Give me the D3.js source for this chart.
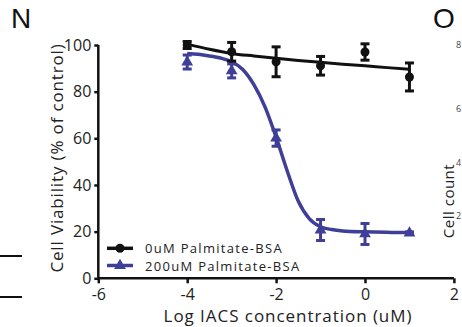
<!DOCTYPE html>
<html><head><meta charset="utf-8">
<script src="https://cdn.jsdelivr.net/npm/d3@7"></script>
<style>
html,body{margin:0;padding:0;background:#fff;overflow:hidden;}
svg{display:block;font-family:"Open Sans",sans-serif;}
</style></head>
<body>
<svg id="c" width="462" height="327"></svg>
<script>
// ---- data ----
const doses = [-4, -3, -2, -1, 0, 1];
const ctrlMean = [100, 97.1, 92.8, 91.1, 97, 86.3];
const ctrlErr  = [1.5, 4, 6.4, 4, 3.5, 6];
const palmMean = [92.7, 88.9, 60.1, 20.7, 19, 19.4];
const palmErr  = [3, 3, 3.5, 4.5, 4.5, 0.5];
const ctrlFitX = [-4, -3.5, -3, -2.5, -2, -1.5, -1, -0.5, 0, 0.5, 1];
const ctrlFitY = [100.4, 98.2, 96.4, 95.3, 94.3, 93.4, 92.6, 91.8, 91.1, 90.3, 89.6];
const palmFitX = [-4, -3.75, -3.5, -3.25, -3, -2.75, -2.5, -2.25, -2, -1.75, -1.5, -1.25, -1, -0.75, -0.5, 0, 0.5, 1];
const palmFitY = [96.4, 96.0, 95.3, 94.4, 92.8, 89.5, 83, 73.5, 60.5, 46, 33, 25.5, 22.1, 20.9, 20.3, 19.9, 19.7, 19.6];
const xTicks = [-6, -4, -2, 0, 2];
const yTicks = [0, 20, 40, 60, 80, 100];
const legendLabels = ["0uM Palmitate-BSA", "200uM Palmitate-BSA"];
const rightTicks = ["8", "6", "4", "2"];

const BLUE = "#3f3f98", BLACK = "#111";
const svg = d3.select("#c");
const x = d3.scaleLinear().domain([-6, 2]).range([98.3, 453.9]);
const y = d3.scaleLinear().domain([0, 100]).range([278.3, 45]);

// panel letters
svg.append("text").attr("x", 11).attr("y", 28).attr("font-size", 28).attr("font-family", "Liberation Sans")
  .attr("fill", BLACK).text("N");
svg.append("text").attr("x", 433).attr("y", 28).attr("font-size", 28).attr("font-family", "Liberation Sans")
  .attr("fill", BLACK).text("O");

// fragments of neighbouring panels
[256, 297].forEach(v => svg.append("line").attr("x1", 0).attr("x2", 22).attr("y1", v).attr("y2", v)
  .attr("stroke", BLACK).attr("stroke-width", 2));
svg.append("text").attr("transform", "translate(454,201) rotate(-90)").attr("text-anchor", "middle")
  .attr("font-size", 15).attr("fill", "#222").attr("letter-spacing", 0.5).text("Cell count");
const rtY = [48, 112, 166, 219];
rightTicks.forEach((t, i) => svg.append("text").attr("x", 456).attr("y", rtY[i])
  .attr("font-size", 9).attr("fill", "#444").text(t));

// axes
const xAxis = svg.append("g").attr("transform", "translate(0,278.3)")
  .call(d3.axisBottom(x).tickValues(xTicks).tickFormat(d => d < 0 ? "-" + Math.abs(d) : d).tickSize(5).tickSizeOuter(0));
const yAxis = svg.append("g").attr("transform", "translate(98.3,0)")
  .call(d3.axisLeft(y).tickValues(yTicks).tickSize(4).tickSizeOuter(0));
[xAxis, yAxis].forEach(g => {
  g.select(".domain").attr("stroke", BLACK).attr("stroke-width", 2.5);
  g.selectAll(".tick line").attr("stroke", BLACK).attr("stroke-width", 2.5);
  g.selectAll(".tick text").attr("font-size", 16).attr("fill", "#222").attr("font-family", "Open Sans");
});
xAxis.selectAll(".tick text").attr("dy", "0.71em").attr("y", 10);
yAxis.selectAll(".tick text").attr("x", -7);
xAxis.select(".domain").attr("d", `M${x(-6)-1},0H${x(2)}`);
yAxis.select(".domain").attr("d", `M0,${y(100)}V${y(0)+1}`);

// axis titles
svg.append("text").attr("x", 288).attr("y", 322).attr("text-anchor", "middle").attr("font-size", 17)
  .attr("letter-spacing", 0.95).attr("fill", "#222").text("Log IACS concentration (uM)");
svg.append("text").attr("transform", "translate(63,158) rotate(-90)").attr("text-anchor", "middle")
  .attr("font-size", 17).attr("letter-spacing", 0.85).attr("fill", "#222").text("Cell Viability (% of control)");

const line = d3.line().x(d => x(d[0])).y(d => y(d[1])).curve(d3.curveMonotoneX);
const tri = d3.symbol().type(d3.symbolTriangle).size(60);

function series(fx, fy, mean, err, color, marker, lw) {
  const g = svg.append("g");
  g.append("path").datum(fx.map((v, i) => [v, fy[i]])).attr("d", line)
    .attr("fill", "none").attr("stroke", color).attr("stroke-width", lw);
  doses.forEach((d, i) => {
    const cx = x(d), top = y(mean[i] + err[i]), bot = y(mean[i] - err[i]);
    g.append("line").attr("x1", cx).attr("x2", cx).attr("y1", top).attr("y2", bot).attr("stroke", color).attr("stroke-width", 3);
    [top, bot].forEach(v => g.append("line").attr("x1", cx - 4.5).attr("x2", cx + 4.5).attr("y1", v).attr("y2", v)
      .attr("stroke", color).attr("stroke-width", 3));
    if (marker === "circle") g.append("circle").attr("cx", cx).attr("cy", y(mean[i])).attr("r", 4.5).attr("fill", color);
    else g.append("path").attr("d", tri).attr("transform", `translate(${cx},${y(mean[i])})`).attr("fill", color);
  });
}
series(palmFitX, palmFitY, palmMean, palmErr, BLUE, "tri", 3.5);
series(ctrlFitX, ctrlFitY, ctrlMean, ctrlErr, BLACK, "circle", 3);

// legend
const lg = svg.append("g");
[[BLACK, "circle", 248.3], [BLUE, "tri", 265.5]].forEach(([c, m, ly], i) => {
  lg.append("line").attr("x1", 107).attr("x2", 133).attr("y1", ly).attr("y2", ly).attr("stroke", c).attr("stroke-width", 3.5);
  if (m === "circle") lg.append("circle").attr("cx", 120).attr("cy", ly).attr("r", 4.5).attr("fill", c);
  else lg.append("path").attr("d", tri).attr("transform", `translate(120,${ly})`).attr("fill", c);
  lg.append("text").attr("x", 145).attr("y", ly + 5).attr("font-size", 13).attr("letter-spacing", 1.3)
    .attr("fill", "#222").text(legendLabels[i]);
});
</script>
</body></html>
